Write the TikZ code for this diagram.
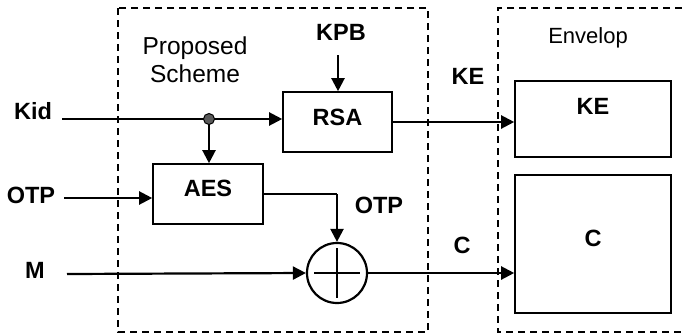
\documentclass[tikz,border=0pt]{standalone}
\usepackage{fontspec}
\setmainfont{Liberation Sans}
\usetikzlibrary{arrows.meta, positioning}

\begin{document}
\begin{tikzpicture}[x=1pt, y=-1pt, >={Triangle[length=13pt,width=13pt]},
    font=\fontsize{22}{26}\selectfont,
    frame/.style={draw, line width=1.4pt, dash pattern=on 7pt off 5pt},
    block/.style={draw, line width=1.6pt, inner sep=0pt, font=\fontsize{23.5}{28}\selectfont\bfseries, text height=17pt},
    lbl/.style={font=\fontsize{23.5}{28}\selectfont\bfseries},
    wire/.style={line width=2.2pt}]
            \useasboundingbox (0,0) rectangle (682,335);

            % 虚线框
            \draw[frame] (118,8) rectangle (428,332);
            \draw[frame] (682,8) -| (498,332) -- (682,332);
            \node[align=center, font=\fontsize{24.5}{28}\selectfont] (scheme) at (195,60) {Proposed\\Scheme};
            \node (envelop) at (588,38) {Envelop};

            % 节点
            \node[block, minimum width=109pt, minimum height=60pt, text depth=10pt] (rsa) at (337.5,122) {RSA};
            \node[block, minimum width=110pt, minimum height=60pt, text depth=12pt] (aes) at (208,194) {AES};
            \node[draw, circle, line width=2.2pt, minimum size=60pt] (xor) at (337,273) {};
            \node[block, minimum width=156pt, minimum height=76pt, text depth=26pt] (ke) at (593,119) {KE};
            \node[block, minimum width=156pt, minimum height=138pt, text depth=12pt] (c) at (593,244) {C};

            % 标签
            \node[lbl] (kid) at (33,111) {Kid};
            \node[lbl] (otp) at (31,195) {OTP};
            \node[lbl] (m) at (35,270) {M};
            \node[lbl] (kpb) at (341,32) {KPB};
            \node[lbl] (kelbl) at (468,76) {KE};
            \node[lbl] (otplbl) at (379,205) {OTP};
            \node[lbl] (clbl) at (462,245) {C};

            \coordinate (kidin) at (62,119);
            \coordinate (otpin) at (64,198);
            \coordinate (min) at (67,274);
            \coordinate (kpbin) at (338,55);
            \coordinate (split) at (209,119);

            % 箭头
            \draw[wire, ->] (kidin) -- (kidin -| rsa.west);
            \draw[wire, ->] (split) -- (split |- aes.north);
            \draw[wire, ->] (kpbin) -- (kpbin |- rsa.north);
            \draw[wire, ->] (otpin) -- (otpin -| aes.west);
            \draw[line width=1.3pt] (aes.east) -- (aes.east -| xor.north);
            \draw[wire, ->] (aes.east -| xor.north) -- (xor.north);
            \draw[wire, ->] (min) -- (xor.west);
            \draw[wire, ->] (rsa.east) -- (rsa.east -| ke.west);
            \draw[wire, ->] (xor.east) -- (xor.east -| c.west);

            % 异或
            \draw[line width=2.2pt] (337,248) -- (337,298) (314,273) -- (360,273);
            \filldraw[fill=black!65, line width=1pt] (split) circle (5.5pt);
        \end{tikzpicture}
\end{document}
